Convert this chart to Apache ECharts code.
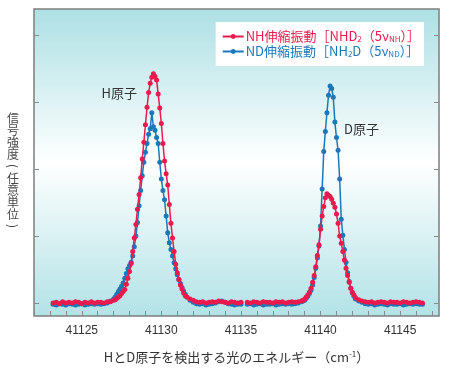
<!DOCTYPE html>
<html>
<head>
<meta charset="utf-8">
<script src="https://cdn.jsdelivr.net/npm/echarts@6/dist/echarts.min.js"></script>
<style>html,body{margin:0;padding:0;background:#fff}#c{width:450px;height:369px}</style>
</head>
<body>
<div id="c"></div>
<script>
// ---- data ----
var xTickValues = [41122,41123,41124,41125,41126,41127,41128,41129,41130,41131,41132,41133,41134,41135,41136,41137,41138,41139,41140,41141,41142,41143,41144,41145,41146,41147];
var xLabelValues = [41125,41130,41135,41140,41145];
var yTickValues = [0,1,2,3,4];

// H atom region (cm-1)
var xH = [41123.2,41123.4,41123.6,41123.8,41124.0,41124.2,41124.4,41124.6,41124.8,41125.0,41125.2,41125.4,41125.6,41125.8,41126.0,41126.2,41126.4,41126.6,41126.8,
  41127.0,41127.1,41127.2,41127.3,41127.4,41127.5,41127.6,41127.7,41127.8,41127.9,
  41128.0,41128.1,41128.2,41128.3,41128.4,41128.5,41128.6,41128.7,41128.8,41128.9,
  41129.0,41129.1,41129.2,41129.3,41129.4,41129.5,41129.6,41129.7,41129.8,41129.9,
  41130.0,41130.1,41130.2,41130.3,41130.4,41130.5,41130.6,41130.7,41130.8,41130.9,
  41131.0,41131.1,41131.2,41131.3,41131.4,41131.5,41131.6,
  41131.8,41132.0,41132.2,41132.4,41132.6,41132.8,41133.0,41133.2,41133.4,41133.6,41133.8,41134.0,41134.2,41134.4,41134.6,41134.8,41135.0];
var nhH = [0.00,0.01,-0.01,0.02,0.00,0.01,0.00,0.02,0.01,-0.01,0.01,0.00,0.02,0.00,0.01,0.01,0.00,0.02,0.02,
  0.04,0.05,0.07,0.09,0.11,0.14,0.17,0.20,0.28,0.37,
  0.47,0.59,0.77,0.97,1.17,1.40,1.62,1.87,2.15,2.40,
  2.66,2.92,3.14,3.28,3.37,3.42,3.38,3.33,3.12,2.91,
  2.68,2.38,2.12,1.93,1.76,1.47,1.19,0.97,0.77,0.58,
  0.45,0.35,0.27,0.21,0.15,0.11,0.09,
  0.06,0.04,0.02,0.01,0.02,0.00,0.01,0.02,0.01,0.03,0.02,0.01,0.00,0.02,0.01,0.00,0.01];
var ndH = [-0.02,-0.03,-0.01,-0.02,-0.03,-0.01,-0.02,-0.03,-0.02,-0.01,-0.03,-0.02,-0.01,-0.02,-0.01,-0.02,-0.01,0.00,0.03,
  0.06,0.09,0.13,0.17,0.21,0.25,0.30,0.37,0.44,0.51,
  0.56,0.61,0.70,0.84,1.00,1.20,1.45,1.68,1.90,2.10,
  2.25,2.38,2.52,2.60,2.84,2.63,2.58,2.47,2.38,2.10,
  1.85,1.68,1.54,1.30,1.05,0.90,0.80,0.70,0.60,0.51,
  0.42,0.35,0.29,0.23,0.18,0.13,0.09,
  0.04,0.01,-0.01,-0.02,-0.01,-0.03,-0.02,-0.01,0.00,0.02,0.03,0.01,-0.01,-0.02,-0.03,-0.02,-0.02];

// D atom region (cm-1)
var xD = [41135.4,41135.6,41135.8,41136.0,41136.2,41136.4,41136.6,41136.8,41137.0,41137.2,41137.4,41137.6,41137.8,41138.0,41138.2,41138.4,41138.6,
  41138.8,41138.9,41139.0,41139.1,41139.2,41139.3,41139.4,41139.5,41139.6,41139.7,
  41139.8,41139.9,41140.0,41140.1,41140.2,41140.3,41140.4,41140.5,41140.6,41140.7,
  41140.8,41140.9,41141.0,41141.1,41141.2,41141.3,41141.4,41141.5,41141.6,41141.7,
  41141.8,41141.9,41142.0,41142.1,41142.2,
  41142.4,41142.6,41142.8,41143.0,41143.2,41143.4,41143.6,41143.8,41144.0,41144.2,41144.4,41144.6,41144.8,41145.0,41145.2,41145.4,41145.6,41145.8,41146.0,41146.2,41146.4];
var nhD = [0.01,0.00,0.02,0.01,0.00,0.02,0.01,0.01,0.00,0.02,0.01,0.02,0.00,0.01,0.02,0.01,0.02,
  0.03,0.04,0.06,0.09,0.12,0.16,0.22,0.31,0.41,0.54,
  0.71,0.87,1.10,1.30,1.44,1.57,1.63,1.61,1.59,1.55,
  1.49,1.43,1.33,1.19,1.00,0.89,0.77,0.64,0.52,0.41,
  0.31,0.22,0.16,0.12,0.08,
  0.05,0.03,0.02,0.01,0.02,0.00,0.01,0.02,0.01,0.00,0.02,0.01,0.01,0.00,0.02,0.01,0.00,0.01,0.02,0.01,0.00];
var ndD = [-0.02,-0.01,-0.03,-0.02,-0.01,-0.03,-0.02,-0.02,-0.01,-0.03,-0.02,-0.01,-0.02,-0.01,-0.02,-0.01,0.00,
  0.02,0.03,0.04,0.07,0.10,0.14,0.19,0.27,0.38,0.52,
  0.67,0.85,1.15,1.70,2.26,2.56,2.84,3.10,3.24,3.20,
  3.07,2.70,2.47,2.28,1.85,1.25,1.01,0.80,0.61,0.45,
  0.32,0.22,0.15,0.10,0.06,
  0.03,0.01,-0.01,-0.02,-0.01,-0.03,-0.02,-0.01,-0.02,-0.03,-0.01,-0.02,-0.02,-0.01,-0.03,-0.02,-0.01,-0.02,-0.01,-0.02,-0.02];

var seriesNames = ['NH伸縮振動', 'ND伸縮振動'];
// vertical y-axis title; '(' and ')' are drawn turned by 90 degrees
var yNameChars = ['信','号','強','度','(','任','意','単','位',')'];
var xNameText = ['HとD原子を検出する光のエネルギー（cm', '-1', '）'];
var annotations = [{text:'H原子', coord:[41127.35, 3.13]}, {text:'D原子', coord:[41142.57, 2.59]}];

// ---- build ----
function zip(xs, ys){ return xs.map(function(x,i){ return [x, ys[i]]; }); }
function joined(xa, ya, xb, yb){ return zip(xa, ya).concat([[41135.2,'-']]).concat(zip(xb, yb)); }

var RED = '#ea1a4e', BLUE = '#1b78b8';
var FONT_JP = '"Noto Sans CJK JP", "Noto Sans", sans-serif';

var yTitle = yNameChars.map(function(c, i){
  var turned = (c === '(' || c === ')');
  return {
    type: 'text',
    x: 13, y: 118 + i * 12,
    rotation: turned ? -Math.PI / 2 : 0,
    style: {text: c, fill: '#4a4a4a', font: '12px ' + FONT_JP, align: 'center', verticalAlign: 'middle'}
  };
});

var chart = echarts.init(document.getElementById('c'), null, {renderer:'canvas'});

chart.setOption({
  animation: false,
  backgroundColor: '#ffffff',
  graphic: yTitle,
  grid: {
    left: 34, right: 11, top: 9, bottom: 53,
    outerBoundsMode: 'none',
    containLabel: false,
    show: true,
    borderColor: '#7d7d7d', borderWidth: 1.5,
    backgroundColor: {type:'linear', x:0, y:0, x2:0, y2:1, colorStops:[
      {offset:0, color:'#ade0e4'},
      {offset:0.5, color:'#ffffff'},
      {offset:1, color:'#b2e2e6'}
    ]}
  },
  legend: {
    data: [seriesNames[0], seriesNames[1]],
    orient: 'vertical',
    right: 26, top: 22,
    backgroundColor: '#ffffff',
    padding: [8, 4, 8, 6],
    itemGap: 2,
    itemWidth: 21, itemHeight: 6,
    align: 'left',
    formatter: function(name){
      if (name === seriesNames[0]) return '{rt|NH伸縮振動［NHD}{rs|2}{rt|（5ν}{rs|NH}{rt|）］}';
      return '{bt|ND伸縮振動［NH}{bs|2}{bt|D（5ν}{bs|ND}{bt|）］}';
    },
    textStyle: {
      fontFamily: FONT_JP, fontSize: 13, padding: [0,0,0,-3],
      rich: {
        rt: {color: RED, fontFamily: FONT_JP, fontSize: 13},
        rs: {color: RED, fontFamily: FONT_JP, fontSize: 8, verticalAlign:'bottom', padding:[5,0,0,0]},
        bt: {color: BLUE, fontFamily: FONT_JP, fontSize: 13},
        bs: {color: BLUE, fontFamily: FONT_JP, fontSize: 8, verticalAlign:'bottom', padding:[5,0,0,0]}
      }
    }
  },
  xAxis: [{
    type: 'value',
    min: 41122, max: 41147.44,
    interval: 1,
    axisLine: {show:false, onZero:false},
    splitLine: {show:false},
    axisTick: {show:true, inside:true, length:5, customValues: xTickValues, lineStyle:{color:'#8a8a8a', width:1}},
    axisLabel: {customValues: xLabelValues, color:'#333', fontSize:12, fontFamily:'"Liberation Sans", Arial, sans-serif', margin:9,
      formatter: function(v){ return String(v); }},
    name: '{a|' + xNameText[0] + '}{s|' + xNameText[1] + '}{a|' + xNameText[2] + '}',
    nameLocation: 'middle',
    nameGap: 34,
    nameTextStyle: {
      rich: {
        a: {fontFamily: FONT_JP, fontSize: 13, color: '#333'},
        s: {fontFamily: FONT_JP, fontSize: 8, color: '#333', verticalAlign:'top', padding:[0,0,6,0]}
      }
    }
  }],
  yAxis: [{
    type: 'value',
    min: -0.194, max: 4.388,
    position: 'left',
    axisLine: {show:false, onZero:false},
    splitLine: {show:false},
    axisTick: {show:true, inside:true, length:5, customValues: yTickValues, lineStyle:{color:'#8a8a8a', width:1}},
    axisLabel: {show:false}
  }, {
    type: 'value',
    min: -0.194, max: 4.388,
    position: 'right',
    axisLine: {show:false, onZero:false},
    splitLine: {show:false},
    axisTick: {show:true, inside:true, length:5, customValues: yTickValues, lineStyle:{color:'#8a8a8a', width:1}},
    axisLabel: {show:false}
  }],
  series: [{
    name: seriesNames[1],
    type: 'line',
    data: joined(xH, ndH, xD, ndD),
    connectNulls: false,
    symbol: 'circle', symbolSize: 5,
    showAllSymbol: true,
    itemStyle: {color: BLUE},
    lineStyle: {color: BLUE, width: 1.5},
    z: 2
  }, {
    name: seriesNames[0],
    type: 'line',
    data: joined(xH, nhH, xD, nhD),
    connectNulls: false,
    symbol: 'circle', symbolSize: 5,
    showAllSymbol: true,
    itemStyle: {color: RED},
    lineStyle: {color: RED, width: 1.5},
    z: 3,
    markPoint: {
      symbol: 'rect', symbolSize: 1,
      itemStyle: {color: 'rgba(0,0,0,0)'},
      label: {show: true, position: 'inside', color: '#333', fontFamily: FONT_JP, fontSize: 13,
        formatter: function(p){ return p.name; }},
      data: annotations.map(function(a){ return {name: a.text, coord: a.coord}; })
    }
  }]
});
</script>
</body>
</html>
